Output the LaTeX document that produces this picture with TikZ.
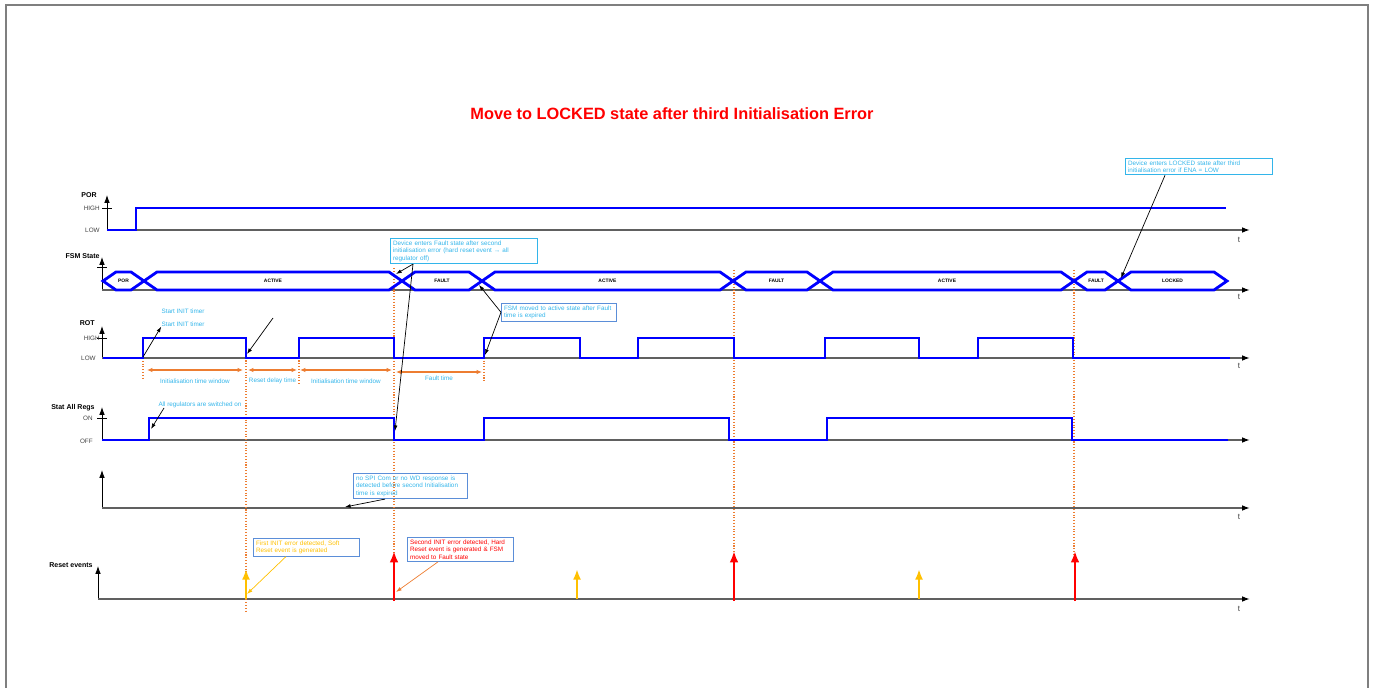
\documentclass[tikz,border=0pt]{standalone}
\usepackage{fontspec}
\setmainfont{Liberation Sans}
\usetikzlibrary{arrows.meta,positioning}

\definecolor{sigblue}{HTML}{0000FF}
\definecolor{txtcyan}{HTML}{33B5EA}
\definecolor{boxblue}{HTML}{5B8ED8}
\definecolor{dotorange}{HTML}{ED7D31}
\definecolor{softyellow}{HTML}{FFC000}
\definecolor{axisgray}{HTML}{606060}
\definecolor{framegray}{HTML}{7F7F7F}

\newcommand\tinyfont{\fontsize{3.6}{4.3}\selectfont}
\newcommand\lblfont{\fontsize{4}{5}\selectfont\bfseries}
\newcommand\busfont{\fontsize{2.8}{3.4}\selectfont\bfseries}

\tikzset{
  sig/.style={sigblue,line width=1.6pt},
  bus/.style={sigblue,line width=1.6pt,line join=miter},
  taxis/.style={axisgray,line width=0.8pt,-{Latex[length=4.5pt,width=3.2pt,black]}},
  vaxis/.style={black,line width=0.5pt,-{Latex[length=4.5pt,width=3.2pt]}},
  sigtitle/.style={font=\lblfont,anchor=east,inner sep=0pt},
  lvl/.style={font=\tinyfont,anchor=east,inner sep=0pt,text=black!75},
  tlabel/.style={font=\fontsize{4.6}{5}\selectfont,inner sep=0pt,text=black!75},
  buslabel/.style={font=\busfont,inner sep=0pt},
  tmarker/.style={dotorange,densely dotted,line width=0.6pt},
  spanarrow/.style={dotorange,line width=0.8pt,{Latex[length=3pt,width=2.5pt]}-{Latex[length=3pt,width=2.5pt]}},
  spantext/.style={font=\tinyfont,text=txtcyan,inner sep=0pt},
  note/.style={draw=boxblue,line width=0.5pt,font=\tinyfont,text=txtcyan,align=left,anchor=north west,inner xsep=1.5pt,inner ysep=1.2pt,text width=#1},
  pointer/.style={black,line width=0.4pt,-{Latex[length=3.2pt,width=2.2pt]}},
  softev/.style={softyellow,line width=1.4pt,-{Latex[length=6pt,width=4.5pt]}},
  hardev/.style={red,line width=1.6pt,-{Latex[length=6.5pt,width=5pt]}},
}

\begin{document}
\begin{tikzpicture}[x=0.02cm,y=-0.02cm]
\useasboundingbox (0,0) rectangle (1375,688);
\draw[framegray,line width=1.2pt] (6,688)--(6,5)--(1368,5)--(1368,688);
\node[font=\fontsize{9.3}{11}\selectfont\bfseries,text=red] (title) at (672,114) {Move to LOCKED state after third Initialisation Error};

\foreach \x/\y/\top in {107/230/195,102/290/257,102/358/326,102/440/407,102/508/470,98/599/566}{
  \draw[vaxis] (\x,\y)--(\x,\top);
  \draw[taxis] (\x,\y)--(1250,\y);
}
\foreach \x/\y in {107/208,102/267,102/338,102/418}
  \draw[black,line width=0.5pt] (\x-5,\y)--(\x+5,\y);
\foreach \y in {240,297,366,517,609}
  \node[tlabel] (t\y) at (1239,\y) {t};

\node[sigtitle] (lpor) at (97,195) {POR};
\node[lvl] (porhi) at (100,208) {HIGH};
\node[lvl] (porlo) at (100,230) {LOW};
\node[sigtitle] (lfsm) at (100,256) {FSM State};
\node[sigtitle] (lrot) at (95,323) {ROT};
\node[lvl] (rothi) at (100,338) {HIGH};
\node[lvl] (rotlo) at (96,358) {LOW};
\node[sigtitle] (lregs) at (95,408) {Stat All Regs};
\node[lvl] (regon) at (93,418) {ON};
\node[lvl] (regoff) at (93,441) {OFF};
\node[sigtitle] (lrst) at (93,565) {Reset events};

\foreach \x/\a/\b in {143/358/378,246/338/611,299/338/383,394/268/556,484/355/381,734/270/556,1074/270/556}
  \draw[tmarker] (\x,\a)--(\x,\b);

\draw[sig] (107,230)--(136,230)--(136,208)--(1226,208);

\foreach \a/\b/\s [count=\i] in {103/144/POR,144/402/ACTIVE,402/482/FAULT,482/733/ACTIVE,733/820/FAULT,820/1074/ACTIVE,1074/1118/FAULT,1118/1227/LOCKED}{
  \draw[bus] (\a,281)--(\a+13,272)--(\b-13,272)--(\b,281)--(\b-13,290)--(\a+13,290)--cycle;
  \node[buslabel] (st\i) at ({(\a+\b)/2},281) {\s};
}

\draw[sig] (103,358) \foreach \u/\d in {143/246,299/394,484/580,638/734,825/919,978/1073}{--(\u,358)--(\u,338)--(\d,338)--(\d,358)} --(1230,358);
\draw[sig] (102,440) \foreach \u/\d in {149/394,484/729,827/1072}{--(\u,440)--(\u,418)--(\d,418)--(\d,440)} --(1228,440);

\foreach \a/\b/\y/\ly/\s [count=\i] in {147/243/370/381/Initialisation time window,248/297/370/381/Reset delay time,300/392/370/381/Initialisation time window,396/482/372/378/Fault time}{
  \draw[spanarrow] (\a,\y)--(\b,\y);
  \node[spantext] (span\i) at ({(\a+\b)/2},\ly) {\s};
}

\node[spantext] (sit1) at (183,311) {Start INIT timer};
\node[spantext] (sit2) at (183,324) {Start INIT timer};
\node[spantext] (allon) at (200,405) {All regulators are switched on};

\node[note=2.84cm,draw=txtcyan] (faultnote) at (390,238) {Device enters Fault state after second\\initialisation error (hard reset event → all\\regulator off)};
\node[note=2.20cm] (activenote) at (501,303) {FSM moved to active state after Fault\\time is expired};
\node[note=2.84cm,draw=txtcyan] (lockednote) at (1125,158) {Device enters LOCKED state after third\\initialisation error if ENA = LOW};
\node[note=2.18cm] (spinote) at (353,473) {no SPI Com or no WD response is\\detected before second Initialisation\\time is expired};
\node[note=2.02cm,text=softyellow] (softnote) at (253,538) {First INIT error detected, Soft\\Reset event is generated};
\node[note=2.02cm,text=red] (hardnote) at (407,537) {Second INIT error detected, Hard\\Reset event is generated \& FSM\\moved to Fault state};

\foreach \x in {246,577,919} \draw[softev] (\x,599)--(\x,569);
\foreach \x in {394,734,1075} \draw[hardev] (\x,601)--(\x,551);

\coordinate (rotup) at (143,357);
\coordinate (rotdown) at (247,354);
\coordinate (loose) at (273,318);
\coordinate (allonfoot) at (164,408);
\coordinate (regup) at (151,429);
\coordinate (fsmx1) at (396,274);
\coordinate (regdown) at (395,431);
\coordinate (fsmx2) at (479,285);
\coordinate (rotup2) at (485,355);
\coordinate (fsmx3) at (1121,278);
\coordinate (blankax) at (345,507);
\coordinate (softev1) at (247,594);
\coordinate (hardev1) at (396,592);

\draw[pointer] (rotup)--(sit2.south west);
\draw[pointer] (loose)--(rotdown);
\draw[pointer] (allonfoot)--(regup);
\draw[pointer] ([xshift=0.46cm]faultnote.south west)--(fsmx1);
\draw[pointer] ([xshift=0.46cm]faultnote.south west)--(regdown);
\draw[pointer] (activenote.west)--(fsmx2);
\draw[pointer] (activenote.west)--(rotup2);
\draw[pointer] ([xshift=0.8cm]lockednote.south west)--(fsmx3);
\draw[pointer] ([xshift=0.64cm]spinote.south west)--(blankax);
\draw[pointer,softyellow] ([xshift=0.66cm]softnote.south west)--(softev1);
\draw[pointer,dotorange] ([xshift=0.62cm]hardnote.south west)--(hardev1);
\end{tikzpicture}
\end{document}
